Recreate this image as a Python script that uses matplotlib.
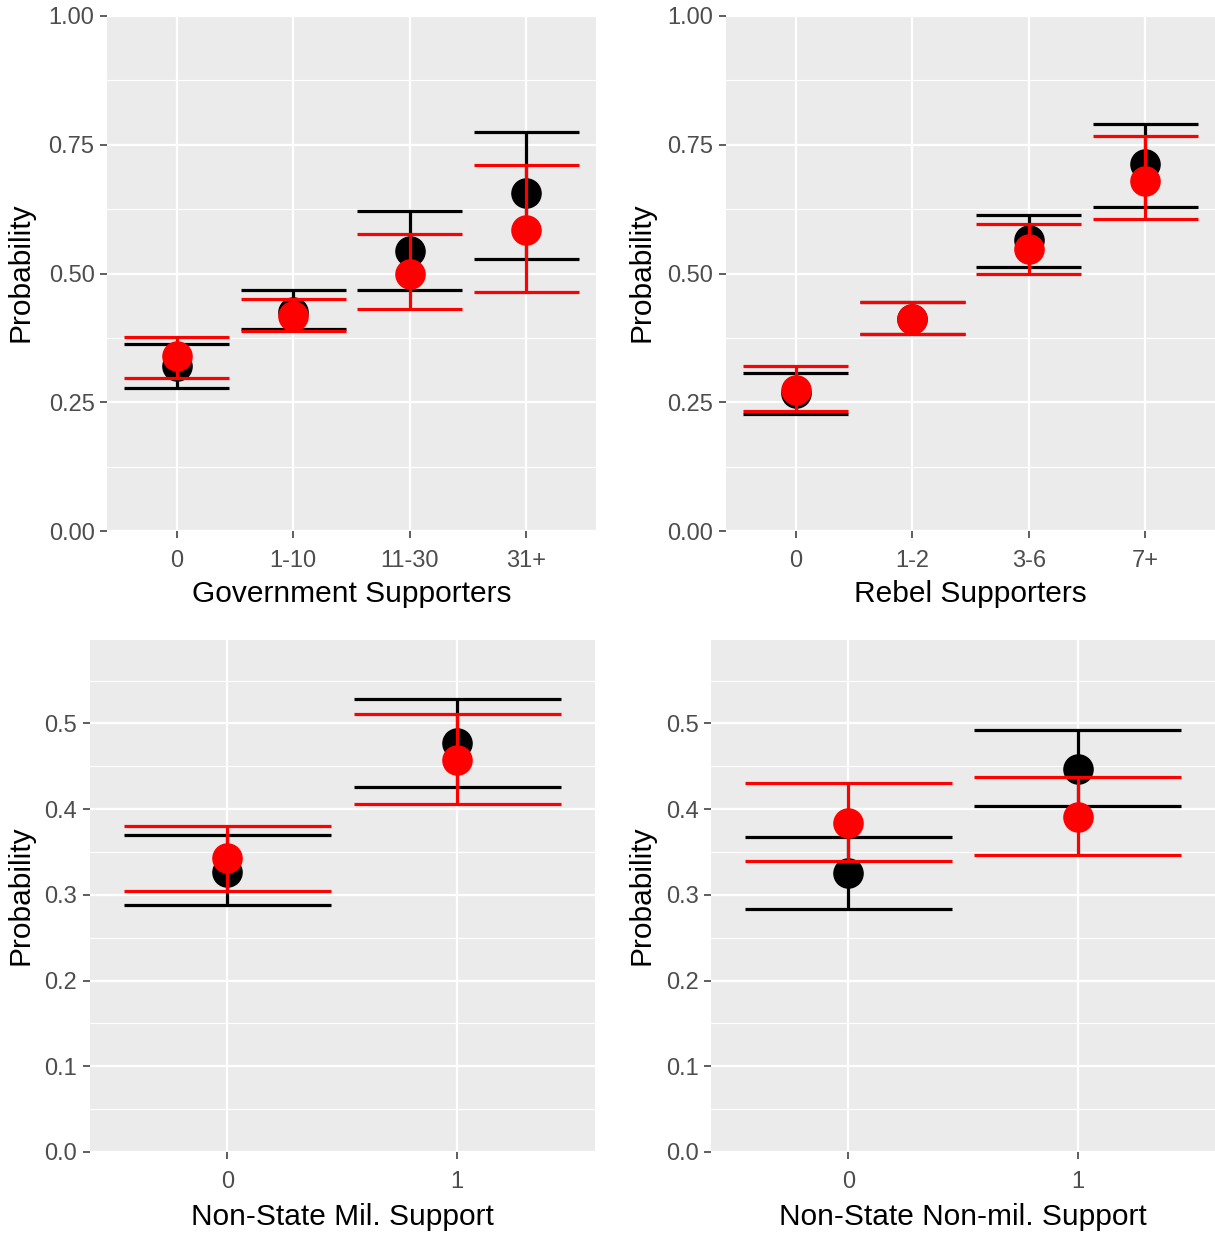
import numpy as np
import matplotlib
matplotlib.use("Agg")
import matplotlib.pyplot as plt

plt.rcParams['font.family'] = ['Liberation Sans', 'DejaVu Sans']

# predicted probabilities with confidence intervals, two models per panel
gov_cats = ['0', '1-10', '11-30', '31+']
gov_black_est = [0.321, 0.425, 0.543, 0.656]
gov_black_lo = [0.278, 0.393, 0.467, 0.529]
gov_black_hi = [0.364, 0.468, 0.621, 0.775]
gov_red_est = [0.339, 0.418, 0.499, 0.584]
gov_red_lo = [0.298, 0.388, 0.431, 0.464]
gov_red_hi = [0.377, 0.451, 0.577, 0.710]

reb_cats = ['0', '1-2', '3-6', '7+']
reb_black_est = [0.267, 0.412, 0.566, 0.712]
reb_black_lo = [0.227, 0.383, 0.513, 0.630]
reb_black_hi = [0.307, 0.444, 0.613, 0.791]
reb_red_est = [0.274, 0.412, 0.547, 0.680]
reb_red_lo = [0.233, 0.383, 0.500, 0.605]
reb_red_hi = [0.320, 0.444, 0.597, 0.767]

mil_cats = ['0', '1']
mil_black_est = [0.327, 0.477]
mil_black_lo = [0.288, 0.426]
mil_black_hi = [0.370, 0.528]
mil_red_est = [0.343, 0.457]
mil_red_lo = [0.305, 0.406]
mil_red_hi = [0.380, 0.511]

nonmil_cats = ['0', '1']
nonmil_black_est = [0.326, 0.447]
nonmil_black_lo = [0.283, 0.404]
nonmil_black_hi = [0.368, 0.492]
nonmil_red_est = [0.384, 0.391]
nonmil_red_lo = [0.339, 0.346]
nonmil_red_hi = [0.431, 0.438]

W, H = 1215, 1234
fig = plt.figure(figsize=(W / 100, H / 100), dpi=100)


def px_axes(left, right, top, bottom):
    return fig.add_axes([left / W, 1 - bottom / H, (right - left) / W, (bottom - top) / H])


def draw_series(ax, est, lo, hi, color):
    x = np.arange(len(est))
    ax.vlines(x, lo, hi, color=color, lw=2.3, zorder=3)
    ax.hlines(lo, x - 0.45, x + 0.45, color=color, lw=2.3, zorder=3)
    ax.hlines(hi, x - 0.45, x + 0.45, color=color, lw=2.3, zorder=3)
    ax.plot(x, est, 'o', color=color, ms=21, mec=color, zorder=3)


def style_panel(ax, cats, xlabel, ymax, major, minor, fmt, labelpad):
    n = len(cats)
    ax.set_facecolor('#EBEBEB')
    ax.set_xlim(-0.6, n - 0.4)
    ax.set_ylim(0, ymax)
    ax.set_xticks(np.arange(n))
    ax.set_xticklabels(cats)
    ax.set_yticks(major)
    ax.set_yticklabels([fmt.format(v) for v in major])
    ax.set_yticks(minor, minor=True)
    ax.grid(which='major', color='white', lw=1.6, zorder=0)
    ax.grid(which='minor', axis='y', color='white', lw=0.8, zorder=0)
    ax.set_axisbelow(True)
    for s in ax.spines.values():
        s.set_visible(False)
    ax.tick_params(which='major', length=5, width=1.1, color='#333333',
                   labelcolor='#4D4D4D', labelsize=17, pad=4)
    ax.tick_params(axis='x', which='major', pad=8.7)
    ax.tick_params(which='minor', length=0)
    ax.set_xlabel(xlabel, fontsize=21.5, color='black', labelpad=labelpad)


top_major = [0, 0.25, 0.5, 0.75, 1.0]
top_minor = [0.125, 0.375, 0.625, 0.875]
bot_major = [0, 0.1, 0.2, 0.3, 0.4, 0.5]
bot_minor = [0.05, 0.15, 0.25, 0.35, 0.45, 0.55]

ax1 = px_axes(107, 596, 16, 531)
draw_series(ax1, gov_black_est, gov_black_lo, gov_black_hi, 'black')
draw_series(ax1, gov_red_est, gov_red_lo, gov_red_hi, 'red')
style_panel(ax1, gov_cats, 'Government Supporters', 1.0, top_major, top_minor, '{:.2f}', 5.5)

ax2 = px_axes(726, 1215, 16, 531)
draw_series(ax2, reb_black_est, reb_black_lo, reb_black_hi, 'black')
draw_series(ax2, reb_red_est, reb_red_lo, reb_red_hi, 'red')
style_panel(ax2, reb_cats, 'Rebel Supporters', 1.0, top_major, top_minor, '{:.2f}', 5.5)

ax3 = px_axes(89.5, 595, 639.5, 1152)
draw_series(ax3, mil_black_est, mil_black_lo, mil_black_hi, 'black')
draw_series(ax3, mil_red_est, mil_red_lo, mil_red_hi, 'red')
style_panel(ax3, mil_cats, 'Non-State Mil. Support', 0.598, bot_major, bot_minor, '{:.1f}', 7)

ax4 = px_axes(711, 1215, 639.5, 1152)
draw_series(ax4, nonmil_black_est, nonmil_black_lo, nonmil_black_hi, 'black')
draw_series(ax4, nonmil_red_est, nonmil_red_lo, nonmil_red_hi, 'red')
style_panel(ax4, nonmil_cats, 'Non-State Non-mil. Support', 0.598, bot_major, bot_minor, '{:.1f}', 7)

# y titles placed by pixel position
for x, y in [(21, 272), (641, 272), (21, 895), (641, 895)]:
    fig.text(x / W, 1 - y / H, 'Probability', rotation=90, ha='center', va='center',
             fontsize=21.5, color='black')

fig.savefig('out.png', dpi=100, facecolor='white')
